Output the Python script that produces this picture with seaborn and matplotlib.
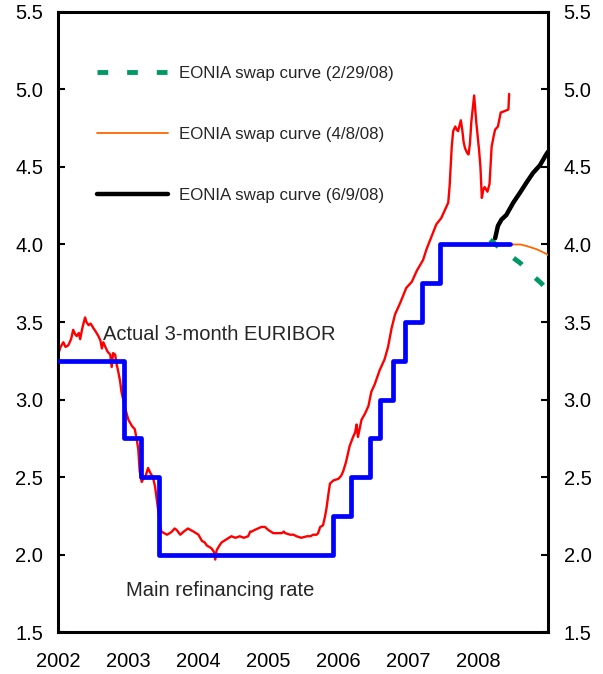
import pandas as pd
import matplotlib
matplotlib.use("Agg")
import matplotlib.pyplot as plt
import seaborn as sns

# ECB main refinancing rate (decision dates as decimal years)
refi_year = [2002.00, 2002.93, 2003.18, 2003.43, 2005.93, 2006.18, 2006.45,
             2006.60, 2006.78, 2006.95, 2007.20, 2007.45, 2008.45]
refi_rate = [3.25, 2.75, 2.50, 2.00, 2.25, 2.50, 2.75, 3.00, 3.25, 3.50, 3.75, 4.00, 4.00]

# 3-month EURIBOR
euribor_year = [2002.00, 2002.03, 2002.07, 2002.10, 2002.14, 2002.18, 2002.21, 2002.24, 2002.26, 2002.29,
                2002.31, 2002.34, 2002.38, 2002.40, 2002.43, 2002.46, 2002.50, 2002.53, 2002.57, 2002.60,
                2002.62, 2002.64, 2002.66, 2002.70, 2002.74, 2002.76, 2002.78, 2002.81, 2002.83, 2002.85,
                2002.88, 2002.90, 2002.93, 2002.95, 2002.98, 2003.00, 2003.05, 2003.09, 2003.12, 2003.14,
                2003.16, 2003.19, 2003.21, 2003.24, 2003.28, 2003.31, 2003.35, 2003.38, 2003.41, 2003.43,
                2003.45, 2003.47, 2003.51, 2003.55, 2003.59, 2003.62, 2003.66, 2003.69, 2003.74, 2003.79,
                2003.85, 2003.89, 2003.93, 2004.00, 2004.05, 2004.09, 2004.12, 2004.16, 2004.19, 2004.22,
                2004.24, 2004.26, 2004.30, 2004.33, 2004.40, 2004.47, 2004.53, 2004.59, 2004.65, 2004.71,
                2004.74, 2004.76, 2004.80, 2004.85, 2004.90, 2004.95, 2005.00, 2005.07, 2005.13, 2005.19,
                2005.22, 2005.24, 2005.31, 2005.36, 2005.40, 2005.47, 2005.55, 2005.60, 2005.64, 2005.69,
                2005.71, 2005.74, 2005.78, 2005.81, 2005.83, 2005.86, 2005.88, 2005.93, 2006.00, 2006.04,
                2006.07, 2006.11, 2006.16, 2006.21, 2006.24, 2006.26, 2006.28, 2006.33, 2006.38, 2006.43,
                2006.47, 2006.52, 2006.59, 2006.66, 2006.71, 2006.76, 2006.81, 2006.88, 2006.97, 2007.05,
                2007.12, 2007.21, 2007.26, 2007.33, 2007.40, 2007.47, 2007.55, 2007.57, 2007.59, 2007.62,
                2007.64, 2007.67, 2007.69, 2007.71, 2007.75, 2007.77, 2007.79, 2007.81, 2007.84, 2007.86,
                2007.88, 2007.90, 2007.94, 2007.97, 2008.01, 2008.03, 2008.05, 2008.07, 2008.09, 2008.13,
                2008.16, 2008.19, 2008.22, 2008.24, 2008.28, 2008.32, 2008.38, 2008.43, 2008.44]
euribor_rate = [3.30, 3.34, 3.37, 3.34, 3.35, 3.39, 3.45, 3.42, 3.41, 3.43,
                3.39, 3.46, 3.53, 3.50, 3.48, 3.49, 3.46, 3.44, 3.41, 3.38,
                3.33, 3.37, 3.35, 3.31, 3.29, 3.21, 3.30, 3.29, 3.23, 3.19,
                3.12, 3.05, 2.99, 2.95, 2.90, 2.87, 2.83, 2.81, 2.74, 2.68,
                2.54, 2.47, 2.49, 2.50, 2.56, 2.53, 2.50, 2.44, 2.34, 2.27,
                2.20, 2.15, 2.14, 2.13, 2.14, 2.15, 2.17, 2.16, 2.13, 2.15,
                2.17, 2.16, 2.15, 2.13, 2.09, 2.08, 2.06, 2.05, 2.04, 2.02,
                1.97, 2.03, 2.06, 2.08, 2.10, 2.12, 2.11, 2.12, 2.11, 2.12,
                2.15, 2.15, 2.16, 2.17, 2.18, 2.18, 2.16, 2.14, 2.14, 2.14,
                2.15, 2.14, 2.13, 2.13, 2.12, 2.11, 2.12, 2.12, 2.13, 2.13,
                2.14, 2.18, 2.19, 2.25, 2.30, 2.40, 2.46, 2.48, 2.49, 2.51,
                2.54, 2.60, 2.70, 2.76, 2.79, 2.84, 2.76, 2.87, 2.91, 2.96,
                3.05, 3.10, 3.19, 3.26, 3.34, 3.46, 3.55, 3.62, 3.72, 3.76,
                3.83, 3.90, 3.97, 4.05, 4.13, 4.17, 4.25, 4.27, 4.38, 4.63,
                4.73, 4.76, 4.74, 4.73, 4.80, 4.74, 4.66, 4.62, 4.59, 4.58,
                4.65, 4.79, 4.96, 4.79, 4.61, 4.50, 4.30, 4.35, 4.37, 4.34,
                4.39, 4.63, 4.70, 4.74, 4.76, 4.85, 4.86, 4.87, 4.97]

# EONIA swap curves
swap_feb_year = [2008.17, 2008.30, 2008.45, 2008.60, 2008.75, 2008.90, 2009.00]
swap_feb_rate = [4.03, 3.98, 3.93, 3.88, 3.81, 3.75, 3.70]
swap_apr_year = [2008.27, 2008.45, 2008.60, 2008.69, 2008.83, 2008.97, 2009.00]
swap_apr_rate = [4.00, 4.00, 4.00, 3.99, 3.97, 3.94, 3.93]
swap_jun_year = [2008.24, 2008.28, 2008.33, 2008.40, 2008.50, 2008.59, 2008.69, 2008.78, 2008.88, 2008.97, 2009.00]
swap_jun_rate = [4.04, 4.12, 4.16, 4.19, 4.27, 4.33, 4.40, 4.46, 4.51, 4.58, 4.60]

year_ticks = [2002, 2003, 2004, 2005, 2006, 2007, 2008]
rate_ticks = [1.5, 2.0, 2.5, 3.0, 3.5, 4.0, 4.5, 5.0, 5.5]

sns.set_style("white")
plt.rcParams["font.family"] = ["Liberation Sans", "DejaVu Sans"]

refi = pd.DataFrame({"year": refi_year, "rate": refi_rate})
euribor = pd.DataFrame({"year": euribor_year, "rate": euribor_rate})
feb = pd.DataFrame({"year": swap_feb_year, "rate": swap_feb_rate})
apr = pd.DataFrame({"year": swap_apr_year, "rate": swap_apr_rate})
jun = pd.DataFrame({"year": swap_jun_year, "rate": swap_jun_rate})

fig = plt.figure(figsize=(6.03, 6.74), dpi=100)
ax = fig.add_axes([0.0970, 0.0616, 0.8123, 0.9211])

sns.lineplot(data=euribor, x="year", y="rate", color="#ff0000", linewidth=1.7, ax=ax, zorder=2)
sns.lineplot(data=feb, x="year", y="rate", color="#009966", linewidth=3.5, ax=ax, zorder=3,
             dashes=False, linestyle=(0, (2.2, 3.9)), label="EONIA swap curve (2/29/08)")
sns.lineplot(data=apr, x="year", y="rate", color="#ff6600", linewidth=1.3, ax=ax, zorder=3,
             label="EONIA swap curve (4/8/08)")
sns.lineplot(data=jun, x="year", y="rate", color="black", linewidth=3.2, ax=ax, zorder=4,
             label="EONIA swap curve (6/9/08)")
sns.lineplot(data=refi, x="year", y="rate", color="#0000ff", linewidth=3.4, ax=ax, zorder=5,
             drawstyle="steps-post")

ax.set_xlim(2002, 2009)
ax.set_ylim(1.5, 5.5)
ax.set_xticks(year_ticks)
ax.set_xticklabels([str(y) for y in year_ticks])
ax.set_yticks(rate_ticks)
ax.set_yticklabels([f"{v:.1f}" for v in rate_ticks])
ax.set_xlabel("")
ax.set_ylabel("")

ax.tick_params(axis="both", direction="in", length=4.7, width=1.5, labelsize=14.5, colors="black")
ax.tick_params(axis="x", pad=14)
ax.tick_params(axis="y", pad=11, right=True, labelright=True, left=True)
for s in ax.spines.values():
    s.set_linewidth(2.2)
    s.set_color("black")

ax.text(2002.64, 3.42, "Actual 3-month EURIBOR", fontsize=14.5, va="center", ha="left")
ax.text(2002.96, 1.77, "Main refinancing rate", fontsize=14.5, va="center", ha="left")

ax.legend(loc="upper left", bbox_to_anchor=(0.048, 0.937), frameon=False, fontsize=12.2,
          handlelength=4.2, handletextpad=0.6, labelspacing=2.7)

fig.savefig("out.png", dpi=100)
